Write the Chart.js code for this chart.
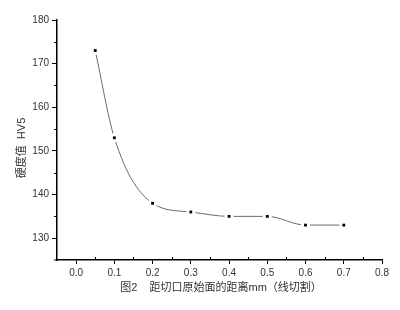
<!DOCTYPE html>
<html>
<head>
<meta charset="utf-8">
<script src="https://cdn.jsdelivr.net/npm/chart.js@4.4.1/dist/chart.umd.min.js"></script>
<style>
  html, body { margin: 0; padding: 0; background: #fff; }
  canvas { display: block; }
</style>
</head>
<body>
<canvas id="c" width="400" height="310"></canvas>
<script>
// ---- data ----
const distances = [0.05, 0.1, 0.2, 0.3, 0.4, 0.5, 0.6, 0.7];
const hardness = [173, 153, 138, 136, 135, 135, 133, 133];
const xTickValues = [0, 0.1, 0.2, 0.3, 0.4, 0.5, 0.6, 0.7, 0.8];
const xTickLabels = ['0.0', '0.1', '0.2', '0.3', '0.4', '0.5', '0.6', '0.7', '0.8'];
const xMinorValues = [0.05, 0.15, 0.25, 0.35, 0.45, 0.55, 0.65, 0.75];
const yTickValues = [130, 140, 150, 160, 170, 180];
const yMinorValues = [135, 145, 155, 165, 175];
const yTitle = '硬度值  HV5';
const caption = '图2    距切口原始面的距离mm（线切割）';

const points = distances.map((x, i) => ({ x: x, y: hardness[i] }));
const FONT = '"Liberation Sans", Arial, "Noto Sans CJK SC", sans-serif';
const TEXT = '#333';

const extras = {
  id: 'extras',
  afterDraw(chart) {
    const ctx = chart.ctx;
    const xs = chart.scales.x, ys = chart.scales.y;
    const area = chart.chartArea;
    ctx.save();
    ctx.strokeStyle = '#000';
    ctx.lineWidth = 1;
    ctx.beginPath();
    xMinorValues.forEach(v => {
      const px = Math.round(xs.getPixelForValue(v)) + 0.5;
      ctx.moveTo(px, area.bottom);
      ctx.lineTo(px, area.bottom - 3);
    });
    yMinorValues.forEach(v => {
      const py = Math.round(ys.getPixelForValue(v)) + 0.5;
      ctx.moveTo(area.left, py);
      ctx.lineTo(area.left - 3, py);
    });
    // x axis runs slightly past the y axis on the left
    ctx.moveTo(area.left - 3, area.bottom);
    ctx.lineTo(area.left, area.bottom);
    ctx.stroke();

    ctx.fillStyle = TEXT;
    ctx.font = '11px ' + FONT;
    ctx.textAlign = 'center';
    ctx.textBaseline = 'middle';
    ctx.save();
    ctx.translate(22, 148);
    ctx.rotate(-Math.PI / 2);
    ctx.fillText(yTitle, 0, 0);
    ctx.restore();
    ctx.fillText(caption, 221, 288);
    ctx.restore();
  }
};

new Chart(document.getElementById('c'), {
  type: 'scatter',
  data: {
    datasets: [
      {
        data: points,
        showLine: true,
        borderColor: '#6a6a6a',
        borderWidth: 1,
        cubicInterpolationMode: 'monotone',
        pointRadius: 0,
        order: 3
      },
      {
        data: points,
        showLine: false,
        pointStyle: 'circle',
        pointRadius: 4.5,
        pointBackgroundColor: '#fff',
        pointBorderWidth: 0,
        pointBorderColor: '#fff',
        order: 2
      },
      {
        data: points,
        showLine: false,
        pointStyle: 'rect',
        pointRadius: 2,
        pointBackgroundColor: '#000',
        pointBorderColor: '#000',
        pointBorderWidth: 0,
        order: 1
      }
    ]
  },
  options: {
    responsive: false,
    animation: false,
    layout: { padding: { top: 20, right: 18, left: 0, bottom: 0 } },
    plugins: { legend: { display: false }, tooltip: { enabled: false } },
    scales: {
      x: {
        type: 'linear',
        min: -0.05,
        max: 0.8,
        afterBuildTicks(scale) { scale.ticks = xTickValues.map(v => ({ value: v })); },
        afterFit(scale) { scale.height = 50; },
        border: { display: true, color: '#000', width: 1.5 },
        grid: { drawOnChartArea: false, drawTicks: true, tickLength: 4, color: '#000', tickColor: '#000' },
        ticks: {
          color: TEXT,
          font: { size: 10, family: FONT },
          padding: 3,
          maxRotation: 0,
          callback: (v) => { const i = xTickValues.findIndex(t => Math.abs(t - v) < 1e-9); return i >= 0 ? xTickLabels[i] : ''; }
        }
      },
      y: {
        type: 'linear',
        min: 125,
        max: 180,
        afterBuildTicks(scale) { scale.ticks = yTickValues.map(v => ({ value: v })); },
        afterFit(scale) { scale.width = 57; },
        border: { display: true, color: '#000', width: 1.5 },
        grid: { drawOnChartArea: false, drawTicks: true, tickLength: 5, color: '#000', tickColor: '#000' },
        ticks: {
          color: TEXT,
          font: { size: 10, family: FONT },
          padding: 3,
          callback: (v) => String(v)
        }
      }
    }
  },
  plugins: [extras]
});
</script>
</body>
</html>
